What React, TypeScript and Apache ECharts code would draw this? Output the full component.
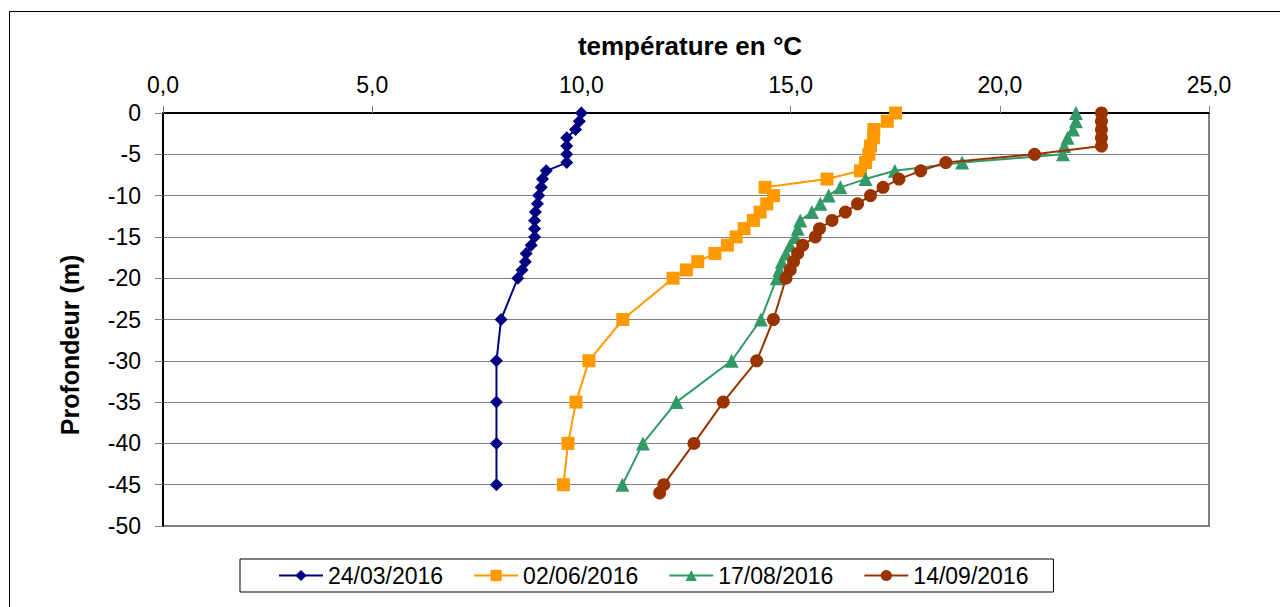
import React, { useEffect, useRef } from "react";
import * as echarts from "echarts";

const xTickLabels = ["0,0", "5,0", "10,0", "15,0", "20,0", "25,0"];
const seriesNames = ["24/03/2016", "02/06/2016", "17/08/2016", "14/09/2016"];

const depths = [0, -1, -2, -3, -4, -5, -6, -7, -8, -9, -10, -11, -12, -13, -14, -15, -16, -17, -18, -19, -20, -25, -30, -35, -40, -45];
const depthsSept = [0, -1, -2, -3, -4, -5, -6, -7, -8, -9, -10, -11, -12, -13, -14, -15, -16, -17, -18, -19, -20, -25, -30, -35, -40, -45, -46];

const tempMar = [10.0, 9.95, 9.86, 9.65, 9.65, 9.65, 9.65, 9.16, 9.07, 9.04, 8.98, 8.95, 8.9, 8.88, 8.88, 8.88, 8.8, 8.68, 8.66, 8.58, 8.48, 8.08, 7.97, 7.97, 7.97, 7.97];
const tempJun = [17.51, 17.31, 16.99, 16.98, 16.91, 16.87, 16.79, 16.67, 15.87, 14.39, 14.59, 14.43, 14.27, 14.11, 13.89, 13.7, 13.49, 13.19, 12.78, 12.51, 12.19, 10.99, 10.18, 9.87, 9.68, 9.57];
const tempAug = [21.82, 21.82, 21.75, 21.62, 21.54, 21.51, 19.1, 17.49, 16.79, 16.19, 15.91, 15.71, 15.51, 15.23, 15.17, 15.11, 14.99, 14.89, 14.79, 14.73, 14.67, 14.29, 13.59, 12.27, 11.47, 10.98];
const tempSep = [22.43, 22.43, 22.43, 22.43, 22.43, 20.83, 18.71, 18.11, 17.59, 17.21, 16.91, 16.6, 16.31, 15.99, 15.69, 15.59, 15.29, 15.17, 15.07, 14.99, 14.89, 14.59, 14.19, 13.39, 12.69, 11.97, 11.87];

const colors = ["#000080", "#FF9900", "#339966", "#993300"];
const symbols = ["diamond", "rect", "triangle", "circle"];
const symbolSizes = [13, 13, 14, 13];

const pair = (t: number[], d: number[]) => t.map((v, i) => [v, d[i]]);

export default function App() {
  const ref = useRef<HTMLDivElement>(null);
  useEffect(() => {
    if (!ref.current) return;
    const chart = echarts.init(ref.current, null, { renderer: "svg" });
    const font = "'Liberation Sans', Arial, sans-serif";
    const datasets = [pair(tempMar, depths), pair(tempJun, depths), pair(tempAug, depths), pair(tempSep, depthsSept)];
    chart.setOption({
      animation: false,
      backgroundColor: "#ffffff",
      grid: {
        left: 163,
        right: 1280 - 1209,
        top: 113,
        bottom: 607 - 526,
        show: true,
        borderColor: "#808080",
        borderWidth: 2,
        backgroundColor: "transparent",
      },
      xAxis: {
        type: "value",
        position: "top",
        min: 0,
        max: 25,
        interval: 5,
        axisLine: { show: true, onZero: false, lineStyle: { color: "#000000", width: 2 } },
        axisTick: { show: true, inside: false, length: 7, lineStyle: { color: "#808080" } },
        axisLabel: {
          margin: 17,
          fontFamily: font,
          fontSize: 23,
          color: "#000000",
          formatter: (v: number) => xTickLabels[Math.round(v / 5)] ?? String(v),
        },
        splitLine: { show: false },
      },
      yAxis: {
        type: "value",
        min: -50,
        max: 0,
        interval: 5,
        axisLine: { show: true, onZero: false, lineStyle: { color: "#000000", width: 2 } },
        axisTick: { show: true, inside: false, length: 8, lineStyle: { color: "#808080" } },
        axisLabel: { margin: 22, fontFamily: font, fontSize: 23, color: "#000000" },
        splitLine: { show: true, lineStyle: { color: "#808080", width: 1 } },
      },
      legend: {
        left: 240,
        top: 559,
        orient: "horizontal",
        padding: [5, 25, 5, 38],
        itemGap: 30,
        itemWidth: 44,
        itemHeight: 14,
        borderColor: "#000000",
        borderWidth: 1,
        textStyle: { fontFamily: font, fontSize: 23, color: "#000000" },
        data: seriesNames,
      },
      graphic: [
        {
          type: "rect",
          shape: { x: 9.5, y: 11.5, width: 1300, height: 640 },
          style: { fill: "none", stroke: "#000000", lineWidth: 1 },
          silent: true,
          z: -1,
        },
        {
          type: "text",
          x: 690,
          y: 46,
          style: {
            text: "température en °C",
            fontFamily: font,
            fontSize: 26,
            fontWeight: "bold",
            fill: "#000000",
            align: "center",
            verticalAlign: "middle",
          },
        },
        {
          type: "text",
          x: 70,
          y: 345,
          rotation: Math.PI / 2,
          style: {
            text: "Profondeur (m)",
            fontFamily: font,
            fontSize: 25,
            fontWeight: "bold",
            fill: "#000000",
            align: "center",
            verticalAlign: "middle",
          },
        },
      ],
      series: seriesNames.map((name, i) => ({
        name,
        type: "line",
        data: datasets[i],
        symbol: symbols[i],
        symbolSize: symbolSizes[i],
        showSymbol: true,
        color: colors[i],
        lineStyle: { color: colors[i], width: 2 },
        itemStyle: { color: colors[i] },
        clip: false,
        z: 3 + i,
      })),
    });
    return () => chart.dispose();
  }, []);
  return (
    <div
      ref={ref}
      style={{ position: "absolute", left: 0, top: 0, width: 1280, height: 607 }}
    />
  );
}
